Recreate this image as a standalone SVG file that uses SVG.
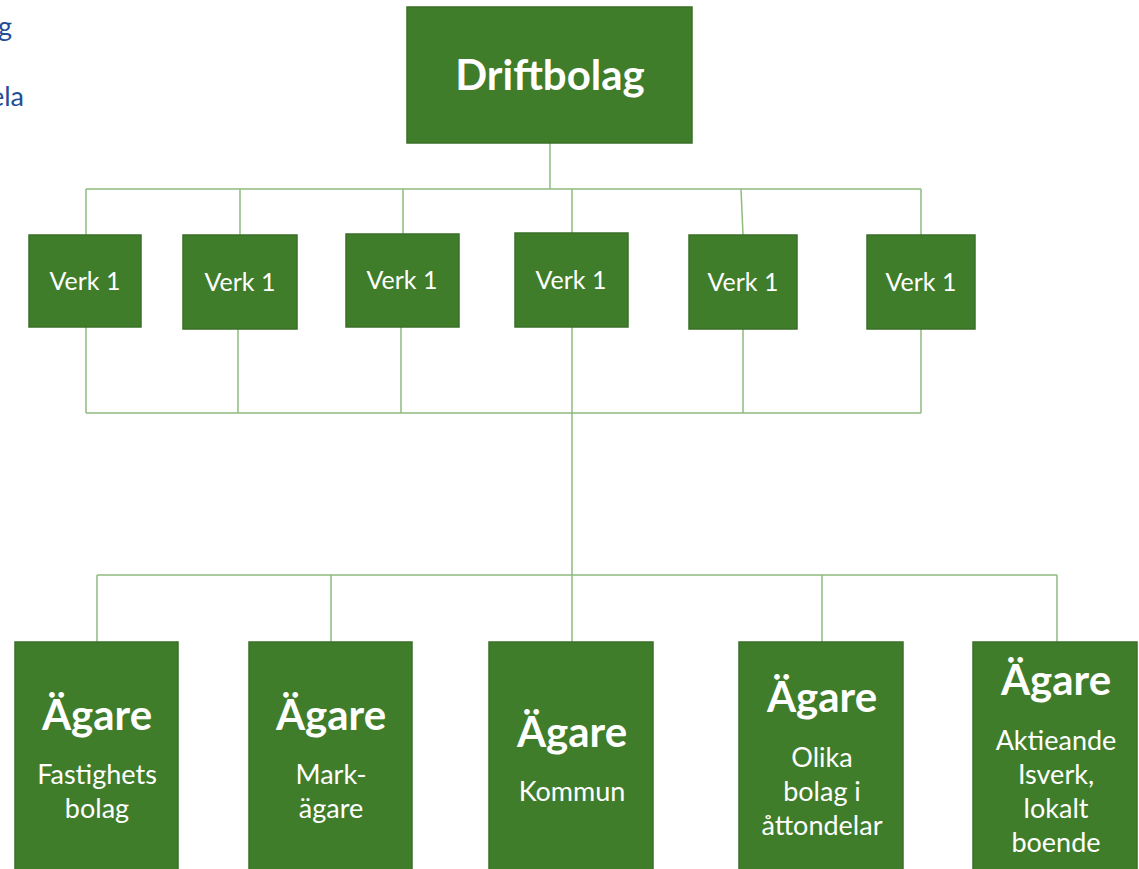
<svg xmlns="http://www.w3.org/2000/svg" width="1139" height="869" viewBox="0 0 1139 869">
<style>
.box{fill:#3f7d2b;stroke:#3a6f27;stroke-width:1.5}
.t{font-family:Lato,"Open Sans",sans-serif;fill:#ffffff;text-anchor:middle}
.big{font-weight:bold;font-size:42px}
.verk{font-size:25px}
.sub{font-size:27px}
.ln{stroke:#8fbb7f;stroke-width:1.5;fill:none}
.frag{font-family:Lato,"Open Sans",sans-serif;fill:#1f4e96;font-size:27px;text-anchor:end}
</style>
<rect width="1139" height="869" fill="#ffffff"/>
<text class="frag" x="12" y="36">g</text>
<text class="frag" x="24" y="106">ela</text>
<g id="connectors">
<path class="ln" d="M550 143V189M86 189H921M86 189V235M240 189V235M403 189V234M572 189V233M741 189L743 235M921 189V235"/>
<path class="ln" d="M86 327V413M238 329V413M401 327V413M572 327V413M743 329V413M921 329V413M86 413H921"/>
<path class="ln" d="M572 413V642M97 575H1057M97 575V642M331 575V642M822 575V642M1057 575V642"/>
</g>
<g id="driftbolag"><rect class="box" x="407" y="7" width="285" height="136"/><text class="t big" x="550" y="90">Driftbolag</text></g>
<g id="verk1"><rect class="box" x="29" y="235" width="112" height="92"/><text class="t verk" x="85" y="290">Verk 1</text></g>
<g id="verk2"><rect class="box" x="183" y="235" width="114" height="94"/><text class="t verk" x="240" y="291">Verk 1</text></g>
<g id="verk3"><rect class="box" x="346" y="234" width="113" height="93"/><text class="t verk" x="402" y="289">Verk 1</text></g>
<g id="verk4"><rect class="box" x="515" y="233" width="113" height="94"/><text class="t verk" x="571" y="289">Verk 1</text></g>
<g id="verk5"><rect class="box" x="689" y="235" width="108" height="94"/><text class="t verk" x="743" y="291">Verk 1</text></g>
<g id="verk6"><rect class="box" x="867" y="235" width="108" height="94"/><text class="t verk" x="921" y="291">Verk 1</text></g>
<g id="agare1"><rect class="box" x="15" y="642" width="163" height="240"/><text class="t big" x="97" y="730">Ägare</text><text class="t sub" x="97" y="784">Fastighets</text><text class="t sub" x="97" y="818">bolag</text></g>
<g id="agare2"><rect class="box" x="249" y="642" width="163" height="240"/><text class="t big" x="331" y="730">Ägare</text><text class="t sub" x="331" y="784">Mark-</text><text class="t sub" x="331" y="818">ägare</text></g>
<g id="agare3"><rect class="box" x="489" y="642" width="164" height="240"/><text class="t big" x="572" y="747">Ägare</text><text class="t sub" x="572" y="801">Kommun</text></g>
<g id="agare4"><rect class="box" x="739" y="642" width="164" height="240"/><text class="t big" x="822" y="712">Ägare</text><text class="t sub" x="822" y="767">Olika</text><text class="t sub" x="822" y="801">bolag i</text><text class="t sub" x="822" y="835">åttondelar</text></g>
<g id="agare5"><rect class="box" x="973" y="642" width="164" height="240"/><text class="t big" x="1056" y="695">Ägare</text><text class="t sub" x="1056" y="750">Aktieande</text><text class="t sub" x="1056" y="784">Isverk,</text><text class="t sub" x="1056" y="818">lokalt</text><text class="t sub" x="1056" y="852">boende</text></g>
</svg>
